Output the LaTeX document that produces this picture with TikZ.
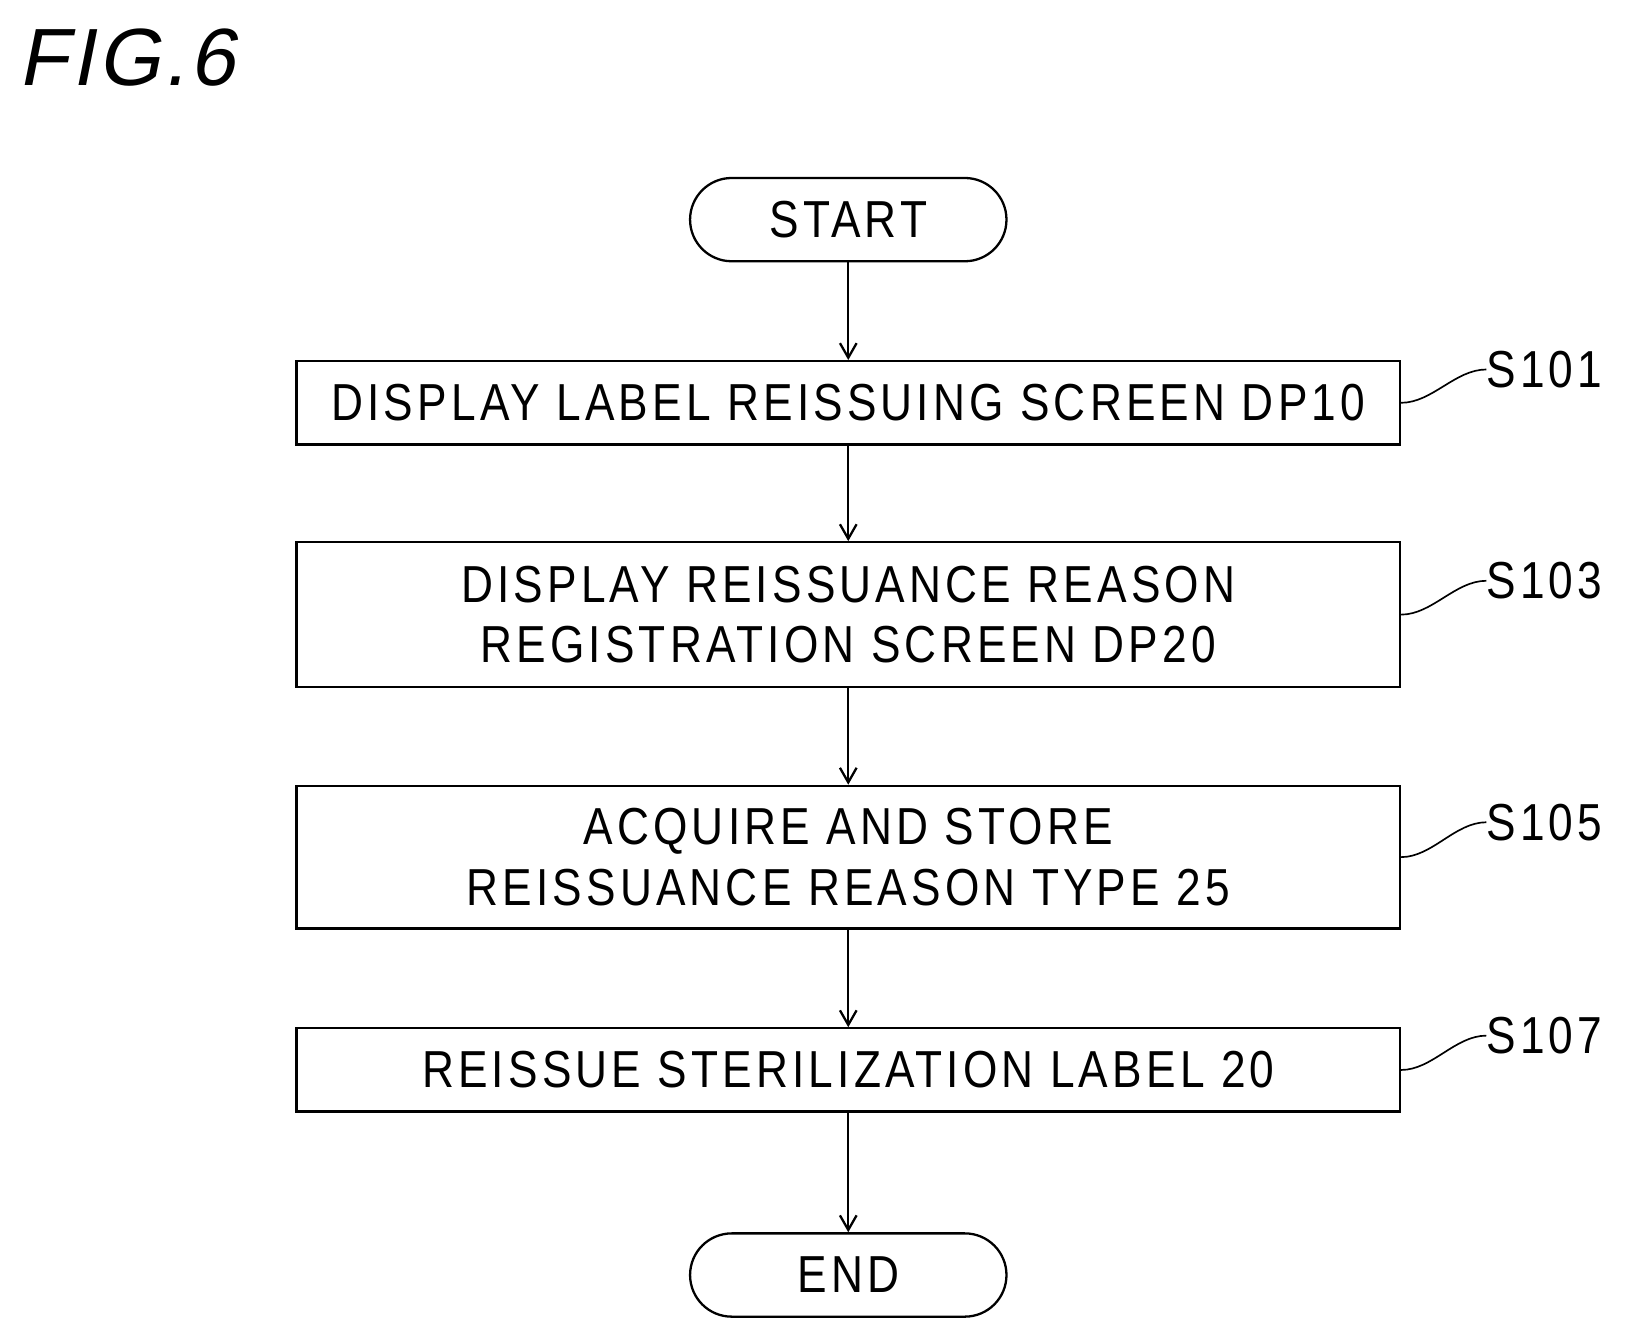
\documentclass[tikz,border=0pt]{standalone}
\usetikzlibrary{arrows.meta}
\usepackage{fontspec}
\setmainfont{Liberation Sans}[FakeStretch=0.85,LetterSpace=8]
\newfontfamily\figfont{Liberation Sans}[FakeSlant=0.2,LetterSpace=4]
\begin{document}
\begin{tikzpicture}[x=1pt,y=-1pt,
 box/.style={draw,line width=2.2pt,minimum width=1060pt,align=center,font=\fontsize{50}{58}\selectfont,inner sep=0pt},
 term/.style={draw,line width=2.2pt,rounded corners=40pt,minimum width=304pt,minimum height=80pt,font=\fontsize{50}{58}\selectfont,inner sep=0pt},
 arr/.style={line width=2.2pt,-{Straight Barb[length=14pt,width=16pt]}},
 lead/.style={line width=1.6pt},
 slab/.style={font=\fontsize{50}{58}\selectfont,anchor=west,inner sep=0pt}]
\useasboundingbox (0,0) rectangle (1568,1286);
\node[anchor=west,font=\figfont\fontsize{78}{80}\selectfont,inner sep=0pt] (fig) at (18,55) {FIG.6};
\node[term] (start) at (815,211) {START};
\node[box,minimum height=80pt] (s101) at (815,387) {DISPLAY LABEL REISSUING SCREEN DP10};
\node[box,minimum height=139pt] (s103) at (815,590.5) {DISPLAY REISSUANCE REASON\\REGISTRATION SCREEN DP20};
\node[box,minimum height=137pt] (s105) at (815,823.5) {ACQUIRE AND STORE\\REISSUANCE REASON TYPE 25};
\node[box,minimum height=80pt] (s107) at (815,1028) {REISSUE STERILIZATION LABEL 20};
\node[term] (end) at (815,1225) {END};
\draw[arr] (start) -- (s101);
\draw[arr] (s101) -- (s103);
\draw[arr] (s103) -- (s105);
\draw[arr] (s105) -- (s107);
\draw[arr] (s107) -- (end);
\foreach \n/\t/\y in {s101/S101/355,s103/S103/558,s105/S105/790,s107/S107/995}{
 \node[slab] (l\n) at (1428,\y) {\t};
 \draw[lead] (\n.east) .. controls +(30,0) and +(-30,0) .. (l\n.west);
}
\end{tikzpicture}
\end{document}
